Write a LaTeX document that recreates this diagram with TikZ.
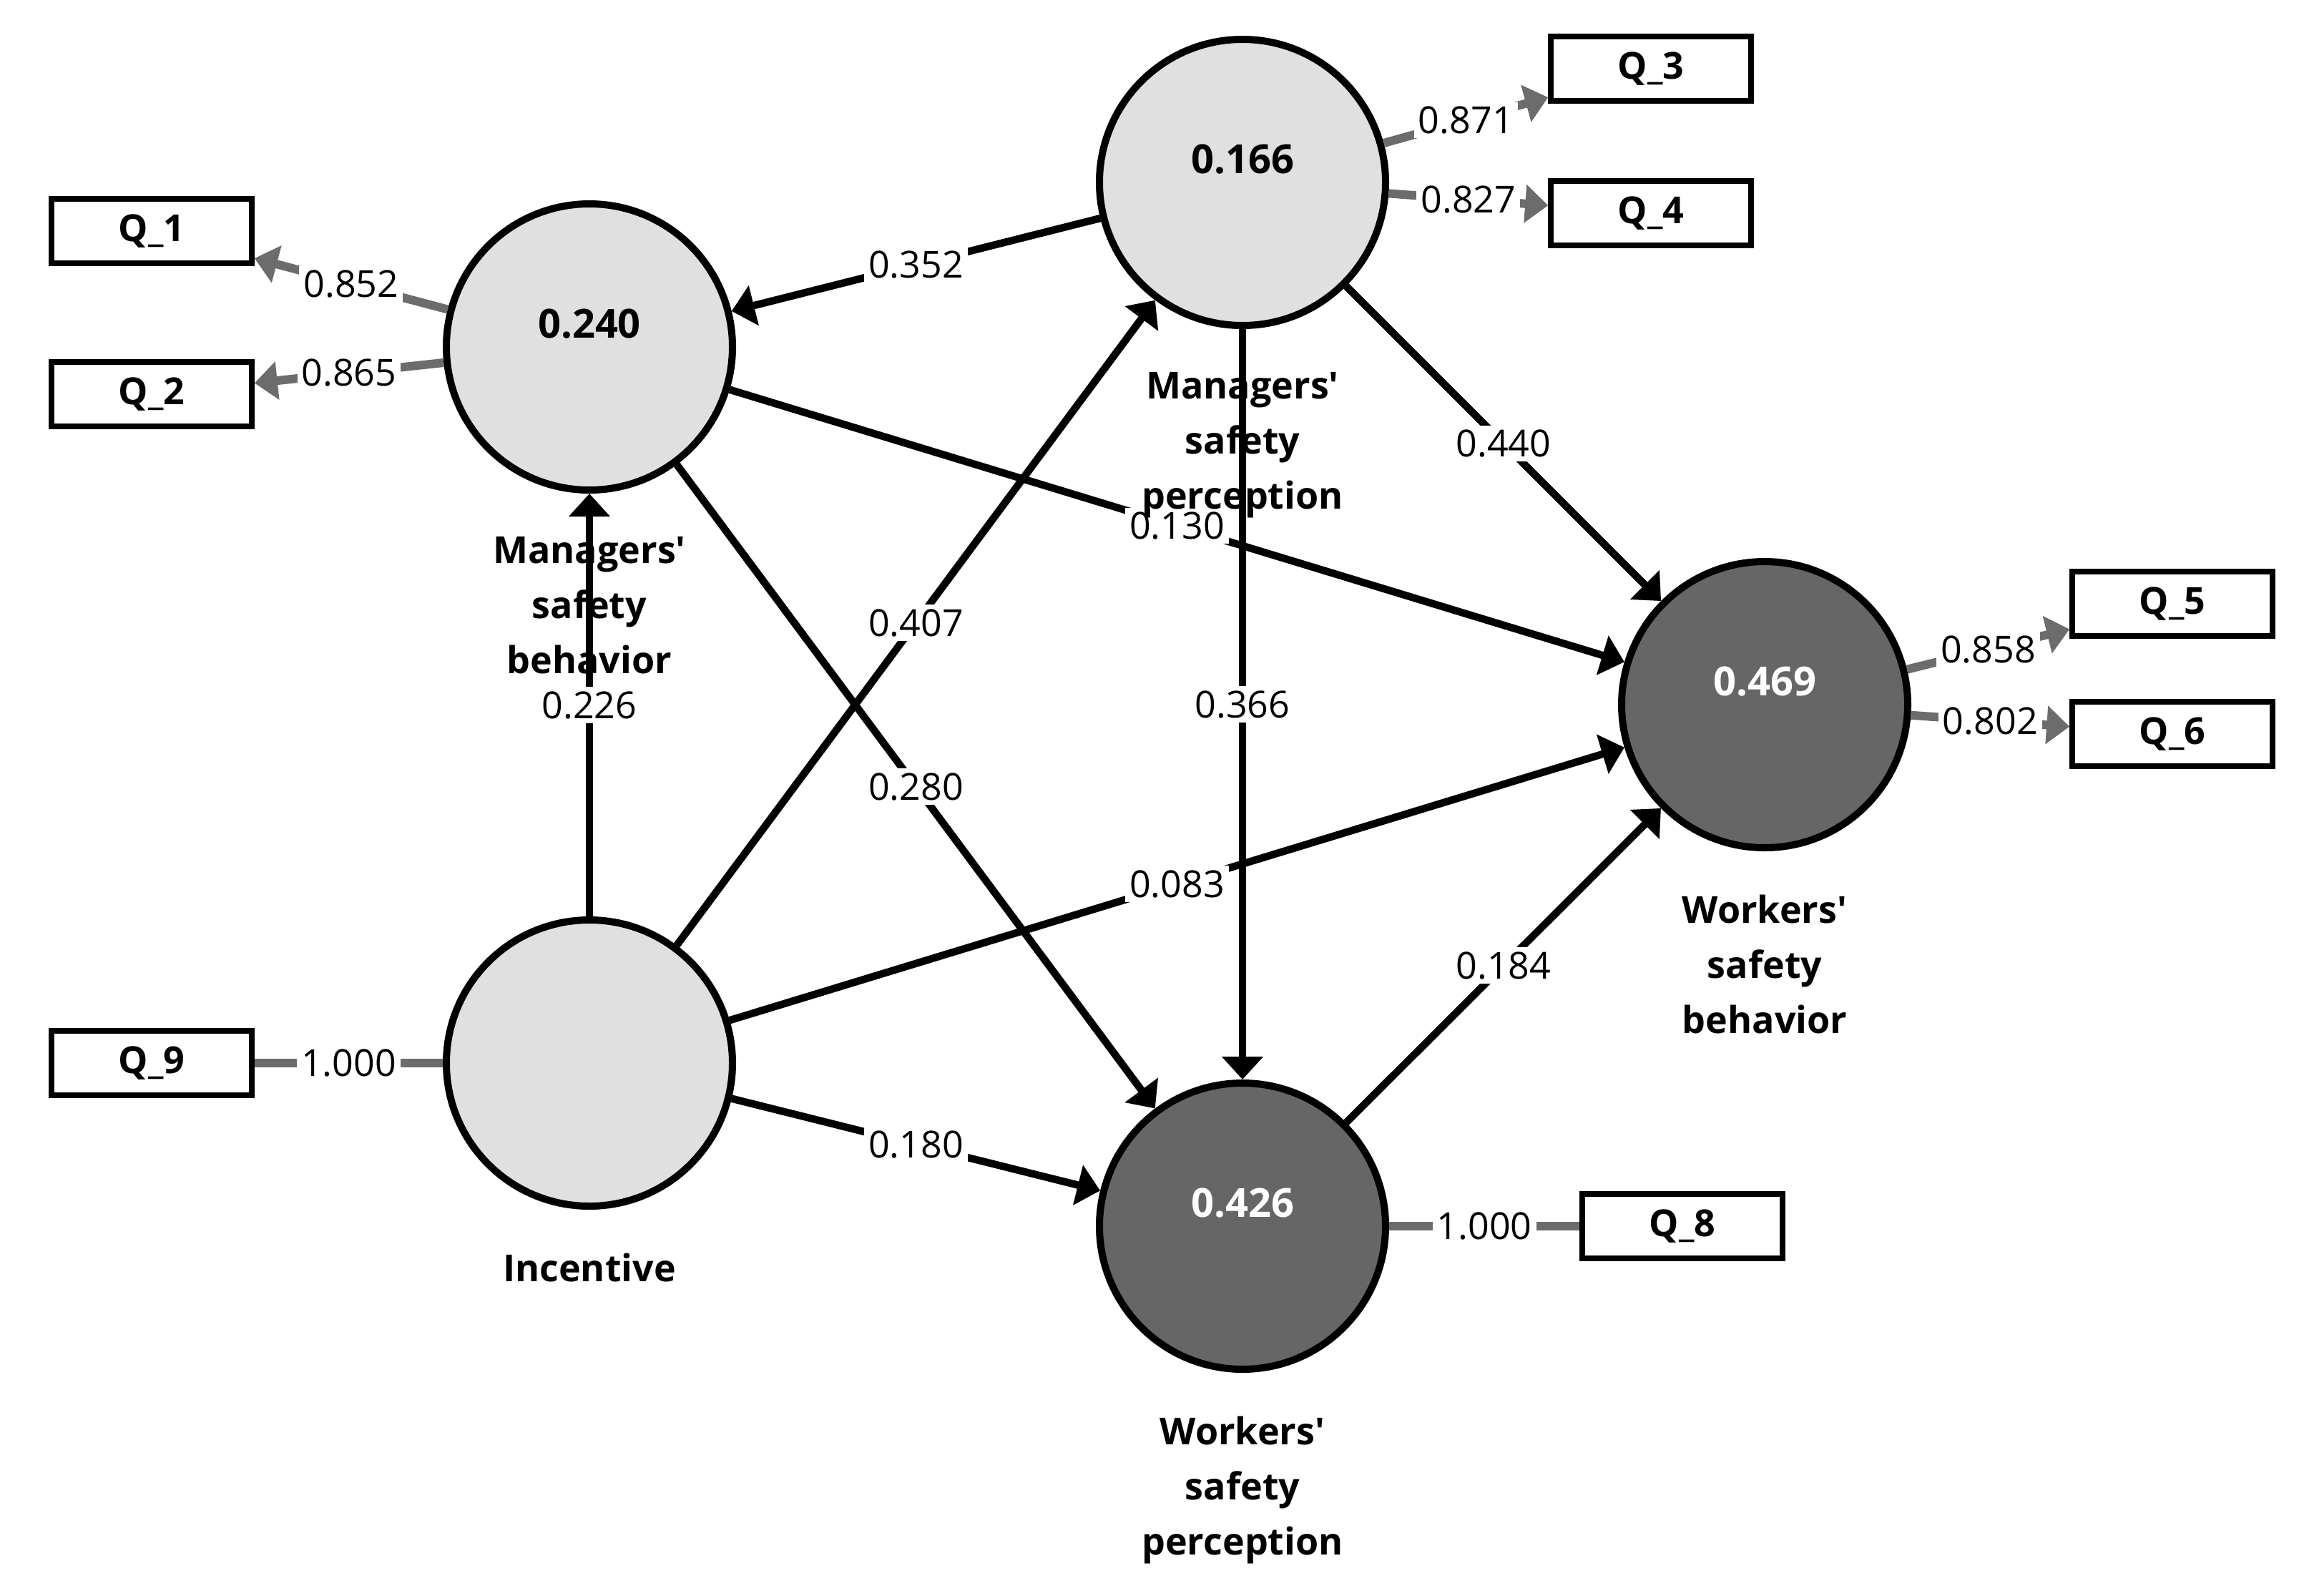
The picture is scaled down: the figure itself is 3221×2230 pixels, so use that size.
\documentclass[tikz,border=0pt]{standalone}
\usepackage{fontspec}
\setmainfont{Open Sans}
\usetikzlibrary{arrows.meta}
\definecolor{lightfill}{RGB}{224,224,224}
\definecolor{darkfill}{RGB}{102,102,102}
\definecolor{grayline}{RGB}{108,108,108}
\begin{document}
\begin{tikzpicture}[x=0.25pt,y=-0.25pt,
  lv/.style={circle, draw=black, line width=2.5pt, minimum size=100pt, inner sep=0pt},
  lvl/.style={lv, fill=lightfill},
  lvd/.style={lv, fill=darkfill},
  ind/.style={rectangle, draw=black, line width=1.9pt, minimum width=70pt, minimum height=22.5pt, inner sep=0pt, font=\bfseries\fontsize{13}{15}\selectfont},
  pathar/.style={line width=2.6pt, draw=black, -{Triangle[length=8pt,width=14pt]}},
  load/.style={line width=3pt, draw=grayline, -{Triangle[length=8pt,width=13pt]}},
  loadn/.style={line width=3pt, draw=grayline},
  coef/.style={fill=white, inner sep=1.5pt, text=black, font=\fontsize{13}{15}\selectfont},
  cname/.style={align=center, font=\bfseries\fontsize{13}{19.25}\selectfont, anchor=north, inner sep=0pt},
  val/.style={font=\bfseries\fontsize{14}{16}\selectfont, inner sep=0pt},
]
\useasboundingbox (0,0) rectangle (3221,2230);
\fill[white] (0,0) rectangle (3221,2230);

% latent variables
\node[lvl] (msb) at (824,485) {};
\node[lvl] (msp) at (1737,255) {};
\node[lvd] (wsb) at (2467,985) {};
\node[lvd] (wsp) at (1737,1714) {};
\node[lvl] (inc) at (824,1486) {};

% indicators
\node[ind] (q1) at (212,323) {Q\_1};
\node[ind] (q2) at (212,551) {Q\_2};
\node[ind] (q3) at (2308,96) {Q\_3};
\node[ind] (q4) at (2308,298) {Q\_4};
\node[ind] (q5) at (3037,844) {Q\_5};
\node[ind] (q6) at (3037,1026) {Q\_6};
\node[ind] (q8) at (2352,1714) {Q\_8};
\node[ind] (q9) at (212,1486) {Q\_9};

% structural paths
\draw[pathar] (msp) -- node[coef]{0.352} (msb);
\draw[pathar] (msb) -- node[coef]{0.130} (wsb);
\draw[pathar] (msb) -- node[coef]{0.280} (wsp);
\draw[pathar] (inc) -- node[coef]{0.226} (msb);
\draw[pathar] (inc) -- node[coef]{0.407} (msp);
\draw[pathar] (inc) -- node[coef]{0.083} (wsb);
\draw[pathar] (inc) -- node[coef]{0.180} (wsp);
\draw[pathar] (msp) -- node[coef]{0.366} (wsp);
\draw[pathar] (msp) -- node[coef]{0.440} (wsb);
\draw[pathar] (wsp) -- node[coef]{0.184} (wsb);

% outer loadings
\draw[load] (msb) -- node[coef]{0.852} (q1);
\draw[load] (msb) -- node[coef]{0.865} (q2);
\draw[load] (msp) -- node[coef]{0.871} (q3);
\draw[load] (msp) -- node[coef]{0.827} (q4);
\draw[load] (wsb) -- node[coef]{0.858} (q5);
\draw[load] (wsb) -- node[coef]{0.802} (q6);
\draw[loadn] (wsp) -- node[coef]{1.000} (q8);
\draw[loadn] (inc) -- node[coef]{1.000} (q9);

% R-squared values
\node[val] (vmsb) at ([yshift=8pt]msb.center) {0.240};
\node[val] (vmsp) at ([yshift=8pt]msp.center) {0.166};
\node[val, text=white] (vwsb) at ([yshift=8pt]wsb.center) {0.469};
\node[val, text=white] (vwsp) at ([yshift=8pt]wsp.center) {0.426};

% construct names
\node[cname] (lmsb) at ([yshift=-15pt]msb.south) {Managers\textquotesingle\\safety\\behavior};
\node[cname] (lmsp) at ([yshift=-15pt]msp.south) {Managers\textquotesingle\\safety\\perception};
\node[cname] (lwsb) at ([yshift=-15pt]wsb.south) {Workers\textquotesingle\\safety\\behavior};
\node[cname] (lwsp) at ([yshift=-15pt]wsp.south) {Workers\textquotesingle\\safety\\perception};
\node[cname] (linc) at ([yshift=-15pt]inc.south) {Incentive};
\end{tikzpicture}
\end{document}
